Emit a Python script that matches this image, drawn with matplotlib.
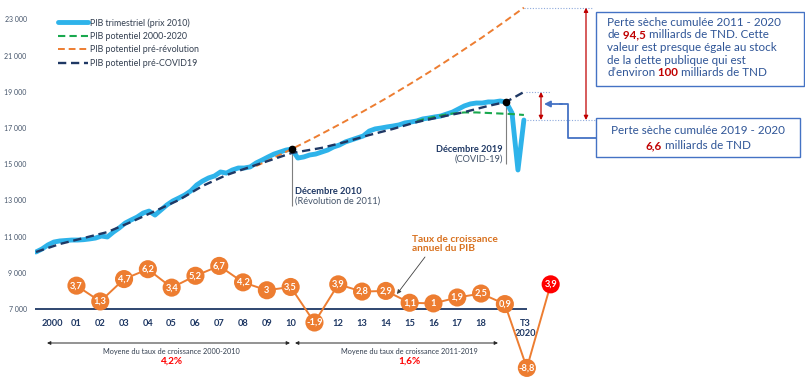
import matplotlib
matplotlib.use('Agg')
import matplotlib.pyplot as plt
from matplotlib.patches import Rectangle
from matplotlib.lines import Line2D

plt.rcParams['font.family'] = ['Lato', 'DejaVu Sans']

W, H = 805, 385

# ---------------- data ----------------
# quarterly GDP (2010 prices), 2000 T1 .. 2020 T3 (index 0 .. 82)
gdp_quarterly = [10150, 10315, 10540, 10700, 10760, 10785, 10810, 10810, 10830, 10870,
                 10920, 11030, 10980, 11250, 11480, 11750, 11920, 12080, 12300, 12410,
                 12190, 12470, 12750, 12970, 13130, 13300, 13520, 13850, 14070, 14240,
                 14350, 14570, 14510, 14680, 14790, 14790, 14850, 15070, 15230, 15400,
                 15560, 15670, 15780, 15840, 15340, 15400, 15510, 15560, 15670, 15780,
                 15950, 16060, 16230, 16340, 16450, 16560, 16830, 16950, 17000, 17060,
                 17110, 17170, 17280, 17330, 17390, 17500, 17550, 17610, 17660, 17770,
                 17880, 18050, 18220, 18330, 18380, 18380, 18440, 18440, 18490, 18440,
                 17830, 14680, 17440]
quarter_index = list(range(len(gdp_quarterly)))

precovid_q = [0, 4, 8, 12, 16, 20, 24, 28, 32, 36, 40, 43, 48, 52, 56, 60, 64, 68, 72, 76, 79, 82]
precovid_v = [10150, 10590, 10920, 11250, 11810, 12410, 13020, 13800, 14400, 14850, 15290,
              15620, 15900, 16230, 16610, 16950, 17330, 17610, 17880, 18220, 18440, 18990]

prerev_q = [37, 39, 43, 47, 51, 55, 59, 63, 67, 71, 75, 79, 82]
prerev_v = [14900, 15200, 15840, 16505, 17200, 17920, 18670, 19460, 20275, 21130, 22010, 22935, 23650]

pot_q = [64, 66, 68, 70, 72, 74, 76, 78, 80, 82]
pot_v = [17390, 17550, 17690, 17800, 17860, 17860, 17830, 17800, 17770, 17720]

# "11" is hidden under the -1,9 circle in the original
year_labels = ['2000', '01', '02', '03', '04', '05', '06', '07', '08', '09', '10',
               '', '12', '13', '14', '15', '16', '17', '18']
year_pos = [2.8 + 4 * k for k in range(len(year_labels))]
t3_pos = 82.2

growth = [3.7, 1.3, 4.7, 6.2, 3.4, 5.2, 6.7, 4.2, 3.0, 3.5, -1.9, 3.9, 2.8, 2.9,
          1.1, 1.0, 1.9, 2.5, 0.9, -8.8, 3.9]
growth_pos = [2.8 + 4 * k for k in range(1, 20)] + [82.5, 86.5]

dec2010_q = 43
dec2019_q = 79

# ---------------- style ----------------
NAVY = '#1F3864'
BLUE = '#2EB3EA'
ORANGE = '#ED7D31'
DORANGE = '#D8711F'
GREEN = '#19A84E'
RED = '#C00000'
BRED = '#FF0000'
TXTBLUE = '#2F5597'
BOXBLUE = '#4472C4'
DOT = '#8FAADC'

fig = plt.figure(figsize=(W / 100, H / 100), dpi=100)
ax = fig.add_axes([35 / W, 0, 1 - 35 / W, 1])
ax.patch.set_alpha(0)

QPX, Q0PX = 5.95, 36.0
PXV = 1000 / 18.1


def q_of(px):
    return (px - Q0PX) / QPX


def v_of(py):
    return 7000 + (309 - py) * PXV


def fx(x):
    return x / W


def fy(y):
    return 1 - y / H


ax.set_xlim(q_of(35), q_of(W))
ax.set_ylim(v_of(H), v_of(0))
for s in ax.spines.values():
    s.set_visible(False)
ax.set_xticks([])
yt = list(range(7000, 23001, 2000))
ax.set_yticks(yt)
ax.set_yticklabels([f'{t // 1000} 000' for t in yt], fontsize=5, color='#44546A')
ax.tick_params(axis='y', length=0, pad=6)

# ---- GDP lines ----
l_gdp, = ax.plot(quarter_index, gdp_quarterly, color=BLUE, lw=3.5, solid_capstyle='round',
                 solid_joinstyle='round', zorder=2)
l_pot, = ax.plot(pot_q, pot_v, color=GREEN, lw=1.5, ls=(0, (3.5, 2)), zorder=3)
l_rev, = ax.plot(prerev_q, prerev_v, color=ORANGE, lw=1.4, ls=(0, (3.5, 2)), zorder=3)
l_cov, = ax.plot(precovid_q, precovid_v, color=NAVY, lw=1.7, ls=(0, (3.5, 2)), zorder=4)

ax.plot([dec2010_q, dec2019_q], [gdp_quarterly[dec2010_q], gdp_quarterly[dec2019_q]], 'o',
        color='black', ms=4.5, ls='none', zorder=6)
ax.vlines(dec2010_q, v_of(206), gdp_quarterly[dec2010_q], color='#7F7F7F', lw=0.8, zorder=1)
ax.vlines(dec2019_q, v_of(164), gdp_quarterly[dec2019_q], color='#7F7F7F', lw=0.8, zorder=1)

ax.annotate('Décembre 2010', xy=(295, H - 191), xycoords='figure pixels', fontsize=6.7,
            fontweight='bold', color=NAVY, ha='left', va='center')
ax.annotate('(Révolution de 2011)', xy=(295, H - 201), xycoords='figure pixels', fontsize=6.7,
            color='#44546A', ha='left', va='center')
ax.annotate('Décembre 2019', xy=(503, H - 149), xycoords='figure pixels', fontsize=6.7,
            fontweight='bold', color=NAVY, ha='right', va='center')
ax.annotate('(COVID-19)', xy=(503, H - 159), xycoords='figure pixels', fontsize=6.7,
            color='#44546A', ha='right', va='center')

# legend
leg = ax.legend([l_gdp, l_pot, l_rev, l_cov],
                ['PIB trimestriel (prix 2010)', 'PIB potentiel 2000-2020',
                 'PIB potentiel pré-révolution', 'PIB potentiel pré-COVID19'],
                loc='upper left', bbox_to_anchor=(fx(58), fy(18)), bbox_transform=fig.transFigure,
                frameon=False, fontsize=6.4, handlelength=3.4, handletextpad=0.2,
                labelspacing=0.5, borderpad=0, borderaxespad=0)
for t in leg.get_texts():
    t.set_color('#333F50')

# ---- loss markers ----
ax.hlines(prerev_v[-1], 82, q_of(592), colors=DOT, lw=0.8, linestyles=(0, (1, 1.5)), zorder=1)
ax.hlines(precovid_v[-1], 82.3, q_of(551), colors=DOT, lw=0.8, linestyles=(0, (1, 1.5)), zorder=1)
ax.hlines(gdp_quarterly[-1], 82.6, q_of(596), colors=DOT, lw=0.8, linestyles=(0, (1, 1.5)), zorder=1)
ax.annotate('', xy=(q_of(586), gdp_quarterly[-1]), xytext=(q_of(586), prerev_v[-1]),
            arrowprops=dict(arrowstyle='<|-|>', color=RED, lw=0.9, mutation_scale=6,
                            shrinkA=0, shrinkB=0))
ax.annotate('', xy=(q_of(541), gdp_quarterly[-1]), xytext=(q_of(541), precovid_v[-1]),
            arrowprops=dict(arrowstyle='<|-|>', color=RED, lw=0.9, mutation_scale=6,
                            shrinkA=0, shrinkB=0))

# connector from box 2
ax.add_line(Line2D([fx(596), fx(568), fx(568), fx(560)], [fy(137.5), fy(137.5), fy(104), fy(104)],
                   transform=fig.transFigure, color=BOXBLUE, lw=1.3, clip_on=False, zorder=7))
ax.annotate('', xy=(544, H - 104), xytext=(562, H - 104), xycoords='figure pixels',
            textcoords='figure pixels',
            arrowprops=dict(arrowstyle='-|>', color=BOXBLUE, lw=1.3, mutation_scale=9,
                            shrinkA=0, shrinkB=0))

# boxes
ax.add_patch(Rectangle((fx(596), fy(86)), (804 - 596) / W, (86 - 12) / H, transform=fig.transFigure,
                       facecolor='white', edgecolor=BOXBLUE, lw=1.0, clip_on=False, zorder=8))
ax.add_patch(Rectangle((fx(596), fy(157)), (800 - 596) / W, (157 - 118) / H, transform=fig.transFigure,
                       facecolor='white', edgecolor=BOXBLUE, lw=1.0, clip_on=False, zorder=8))


def rich(parts, x, y, fs=8, center=False):
    arts = []
    first = ax.annotate(parts[0][0], xy=(x, H - y), xycoords='figure pixels', fontsize=fs,
                        color=parts[0][1], fontweight=parts[0][2], ha='left', va='center',
                        annotation_clip=False, zorder=10)
    arts.append(first)
    prev = first
    for s, c, w in parts[1:]:
        a = ax.annotate(s, xy=(1, 0.5), xycoords=prev, fontsize=fs, color=c, fontweight=w,
                        ha='left', va='center', annotation_clip=False, zorder=10)
        arts.append(a)
        prev = a
    if center:
        fig.canvas.draw()
        r = fig.canvas.get_renderer()
        b0 = arts[0].get_window_extent(r)
        b1 = arts[-1].get_window_extent(r)
        width = b1.x1 - b0.x0
        first.xy = (x - width / 2, H - y)
        first.xyann = (x - width / 2, H - y)
    return arts


BFS = 8.4
rich([('Perte sèche cumulée 2011 - 2020', TXTBLUE, 'normal')], 607, 22, BFS)
rich([('de', TXTBLUE, 'normal'), (' 94,5', RED, 'bold'), (' milliards de TND. Cette', TXTBLUE, 'normal')],
     607, 35, BFS)
rich([('valeur est presque égale au stock', TXTBLUE, 'normal')], 607, 47.5, BFS)
rich([('de la dette publique qui est', TXTBLUE, 'normal')], 607, 60, BFS)
rich([('d\u2019environ', TXTBLUE, 'normal'), (' 100', RED, 'bold'), (' milliards de TND', TXTBLUE, 'normal')],
     607, 73, BFS)
rich([('Perte sèche cumulée 2019 - 2020', TXTBLUE, 'normal')], 698, 131, BFS, center=True)
rich([('6,6', RED, 'bold'), (' milliards de TND', TXTBLUE, 'normal')], 698, 145.5, BFS, center=True)

# ---- bottom axis ----
ax.hlines(7000, q_of(35), q_of(527), colors=NAVY, lw=1.3, zorder=1)
for lab, p in zip(year_labels, year_pos):
    if lab:
        ax.text(p, v_of(323), lab, ha='center', va='center', fontsize=6.7, fontweight='bold',
                color=NAVY, zorder=1)
ax.text(t3_pos, v_of(323), 'T3', ha='center', va='center', fontsize=6.7, fontweight='bold',
        color=NAVY, zorder=1)
ax.text(t3_pos, v_of(334), '2020', ha='center', va='center', fontsize=6.7, fontweight='bold',
        color=NAVY, zorder=1)

ax.annotate('', xy=(q_of(290), v_of(343)), xytext=(q_of(47), v_of(343)),
            arrowprops=dict(arrowstyle='<|-|>', color='#262626', lw=0.7, mutation_scale=5,
                            shrinkA=0, shrinkB=0))
ax.annotate('', xy=(q_of(498), v_of(343)), xytext=(q_of(295), v_of(343)),
            arrowprops=dict(arrowstyle='<|-|>', color='#262626', lw=0.7, mutation_scale=5,
                            shrinkA=0, shrinkB=0))
ax.text(q_of(171), v_of(351.5), 'Moyene du taux de croissance 2000-2010', ha='center', va='center',
        fontsize=5.3, color='#333F50')
ax.text(q_of(171), v_of(361.5), '4,2%', ha='center', va='center', fontsize=7.2, fontweight='bold',
        color=BRED)
ax.text(q_of(409), v_of(351.5), 'Moyene du taux de croissance 2011-2019', ha='center', va='center',
        fontsize=5.3, color='#333F50')
ax.text(q_of(409), v_of(361.5), '1,6%', ha='center', va='center', fontsize=7.2, fontweight='bold',
        color=BRED)

# ---- growth rates (secondary scale) ----
ax2 = ax.twinx()
G0 = v_of(310)
GS = 6.58 * PXV
ax2.set_ylim((v_of(H) - G0) / GS, (v_of(0) - G0) / GS)
ax2.set_xlim(ax.get_xlim())
for s in ax2.spines.values():
    s.set_visible(False)
ax2.set_yticks([])
ax2.set_xticks([])

ax2.plot(growth_pos, growth, color=ORANGE, lw=1.4, zorder=3)
cols = [ORANGE] * (len(growth) - 1) + [BRED]
ax2.scatter(growth_pos, growth, s=170, c=cols, edgecolors='none', zorder=4)
for p, g in zip(growth_pos, growth):
    lab = (f'{g:.1f}'.replace('.', ',') if g != int(g) else f'{int(g)}')
    ax2.text(p, g, lab, ha='center', va='center', fontsize=6.7, fontweight='bold', color='white',
             zorder=5)

ax2.annotate('Taux de croissance\nannuel du PIB', xy=(412, H - 244), xycoords='figure pixels',
             fontsize=7.3, fontweight='bold', color=DORANGE, ha='left', va='center',
             linespacing=1.0)
ax2.annotate('', xy=(397, H - 294), xytext=(425, H - 257), xycoords='figure pixels',
             textcoords='figure pixels',
             arrowprops=dict(arrowstyle='-|>', color='#404040', lw=0.6, mutation_scale=6,
                             shrinkA=0, shrinkB=0))

fig.savefig('out.png', dpi=100)
